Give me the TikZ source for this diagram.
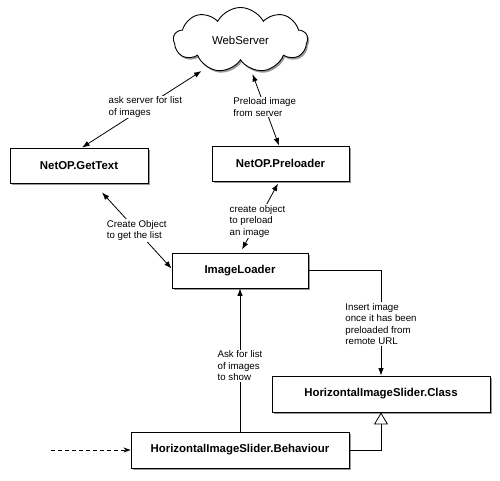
\documentclass[tikz,border=0pt]{standalone}
\usepackage{fontspec}
\setmainfont{Liberation Sans}
\usetikzlibrary{shapes.symbols,shadows,arrows.meta}
\begin{document}
\begin{tikzpicture}[x=1pt,y=-1pt,
  >={Latex[length=7.5pt,width=5.5pt]},
  shade/.style={drop shadow={shadow xshift=1.5pt, shadow yshift=-2pt, opacity=0.4, fill=black}},
  box/.style={draw=black, line width=0.9pt, fill=white, minimum width=#1, minimum height=35pt,
    inner sep=0pt, font=\fontsize{11.4}{13}\selectfont\bfseries, shade},
  conn/.style={draw=black, line width=0.8pt},
  lab/.style={fill=white, inner sep=1pt, align=left, font=\fontsize{9.7}{11.6}\selectfont},
  cloudnode/.style={cloud, cloud puffs=9, cloud puff arc=125, aspect=2, draw=black, line width=0.9pt,
    fill=white, minimum width=134pt, minimum height=65pt, inner sep=0pt,
    font=\fontsize{11.4}{13}\selectfont, shade}
]
\useasboundingbox[fill=white] (0,0) rectangle (500,480);

\node[cloudnode] (cloud) at (240.5,40) {WebServer};
\node[box=138pt] (gettext) at (79,165.5) {NetOP.GetText};
\node[box=137pt] (preloader) at (280.5,163.5) {NetOP.Preloader};
\node[box=136pt] (imageloader) at (240,270.5) {ImageLoader};
\node[box=218pt, minimum height=36pt] (class) at (381,394) {HorizontalImageSlider.Class};
\node[box=218pt, minimum height=36pt] (behaviour) at (240,450) {HorizontalImageSlider.Behaviour};
\coordinate (dstart) at (51,450);

\draw[conn,<->] ([xshift=3pt]gettext.north) -- ([shift={(-39pt,-31pt)}]cloud.center)
  node[lab,pos=0.53] {ask server for list\\of images};
\draw[conn,<->] ([xshift=-1.5pt]preloader.north) -- ([shift={(12pt,-34pt)}]cloud.center)
  node[lab,pos=0.54] {Preload image\\from server};
\draw[conn,<->] ([shift={(23pt,-9pt)}]gettext.south) -- ([yshift=2pt]imageloader.west)
  node[lab,pos=0.5] {Create Object\\to get the list};
\draw[conn,<->] ([shift={(-2.5pt,-2pt)}]preloader.south) -- ([shift={(2pt,3pt)}]imageloader.north)
  node[lab,pos=0.57] {create object\\to preload\\an image};
\draw[conn,->] (behaviour.north) -- (imageloader.south)
  node[lab,pos=0.46] {Ask for list\\of images\\to show};
\draw[conn,->] (imageloader.east) -| (class.north)
  node[lab,pos=0.755] {Insert image\\once it has been\\preloaded from\\remote URL};
\draw[conn,-{Triangle[open,width=14pt,length=12pt]}] (behaviour.east) -| (class.south);
\draw[conn,dashed,dash pattern=on 4pt off 3pt,-{Stealth[length=7pt,width=5pt]}] (dstart) -- (behaviour.west);
\end{tikzpicture}
\end{document}
